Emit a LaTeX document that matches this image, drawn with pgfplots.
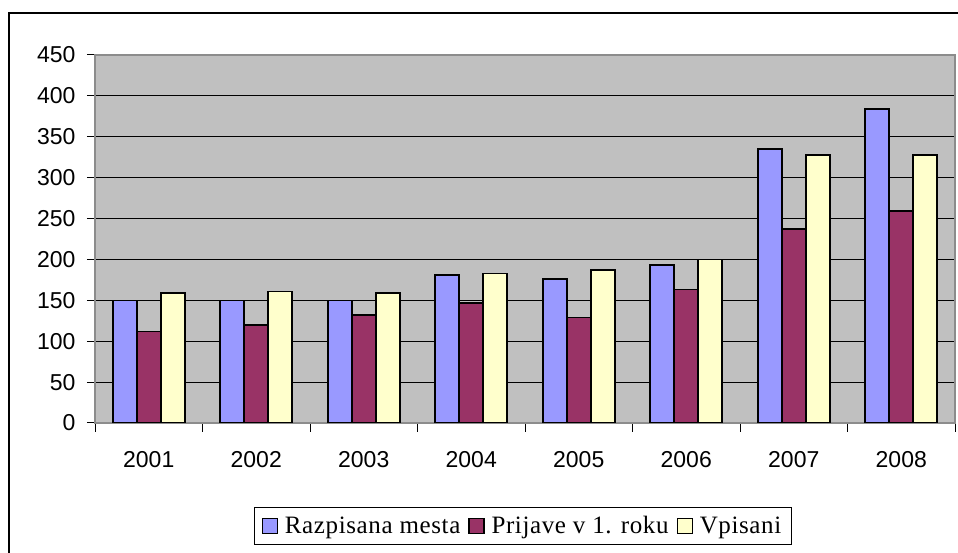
\documentclass[border=0pt]{standalone}
\usepackage{fontspec}
\setmainfont{Liberation Serif}
\newfontfamily\arial{Liberation Sans}
\newfontfamily\legfont[LetterSpace=2.5]{Liberation Serif}
\usepackage{pgfplots}
\pgfplotsset{compat=1.18}
\definecolor{cblue}{HTML}{9999FF}
\definecolor{cred}{HTML}{993366}
\definecolor{cyel}{HTML}{FFFFCC}
\definecolor{cbg}{HTML}{C0C0C0}
\pgfplotsset{sqleg/.style={legend image code/.code={\draw[##1,line width=1.2pt] (0pt,-7.5pt) rectangle (15pt,7.5pt);}}}
\begin{document}
\begin{tikzpicture}[x=1pt,y=1pt]
\useasboundingbox (0,0) rectangle (958,553);
\draw[line width=1.3pt] (9,540) rectangle (1000,-40);
\begin{axis}[at={(95pt,130pt)}, anchor=south west, scale only axis,
  width=860pt, height=368pt,
  xmin=0.5, xmax=8.5, ymin=0, ymax=450,
  ytick={0,50,...,450},
  xtick={1,...,8}, xticklabels={2001,2002,2003,2004,2005,2006,2007,2008},
  minor xtick={0.5,1.5,...,8.5},
  tick align=outside, tick pos=left,
  major tick length=8pt, minor tick length=9pt,
  every major x tick/.append style={draw=none},
  every major y tick/.append style={black, line width=1pt},
  every minor x tick/.append style={black, line width=1pt},
  /pgf/number format/assume math mode=true,
  ymajorgrids, grid style={black, line width=1pt},
  axis background/.style={fill=cbg},
  axis line style={black!45, line width=1.2pt},
  tick label style={font=\arial\fontsize{23}{23}\selectfont},
  yticklabel style={xshift=-8pt},
  xticklabel style={yshift=-17pt},
  ybar, bar width=24pt,
  legend columns=3,
  legend style={at={(0.4977,-0.228)}, anchor=north, draw=black, line width=0.8pt,
    font=\legfont\fontsize{25}{25}\selectfont, inner xsep=7pt, inner ysep=6pt,
    /tikz/every even column/.style={column sep=5pt},
    /tikz/every odd column/.style={column sep=4pt},
    nodes={inner sep=3pt}},
]
\addplot[sqleg, fill=cblue, draw=black, line width=1.6pt, bar shift=-24pt]
  coordinates {(1,150) (2,150) (3,150) (4,181) (5,176) (6,193) (7,335) (8,384)};
\addplot[sqleg, fill=cred, draw=black, line width=1.6pt, bar shift=0pt]
  coordinates {(1,112) (2,120) (3,132) (4,147) (5,129) (6,163) (7,237) (8,259)};
\addplot[sqleg, fill=cyel, draw=black, line width=1.6pt, bar shift=24pt]
  coordinates {(1,159) (2,161) (3,159) (4,183) (5,187) (6,200) (7,328) (8,328)};
\legend{Razpisana mesta, Prijave v 1. roku, Vpisani}
\end{axis}
\end{tikzpicture}
\end{document}
